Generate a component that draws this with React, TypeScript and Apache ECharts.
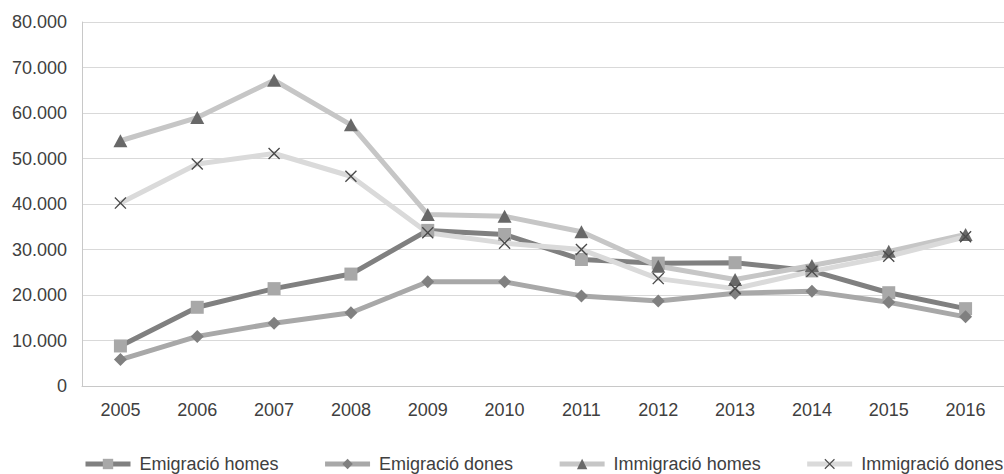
import React, { useEffect, useRef } from "react";
import * as echarts from "echarts";

const years = ["2005", "2006", "2007", "2008", "2009", "2010", "2011", "2012", "2013", "2014", "2015", "2016"];
const emigracioHomes = [8800, 17300, 21400, 24600, 34200, 33300, 27800, 27000, 27100, 25300, 20500, 17000];
const emigracioDones = [5800, 10900, 13800, 16100, 22900, 22900, 19800, 18700, 20400, 20800, 18400, 15200];
const immigracioHomes = [53900, 59000, 67200, 57400, 37700, 37300, 33900, 26300, 23400, 26500, 29600, 33300];
const immigracioDones = [40200, 48800, 51100, 46100, 33700, 31400, 30000, 23600, 21400, 25200, 28500, 32800];

const seriesNames = ["Emigració homes", "Emigració dones", "Immigració homes", "Immigració dones"];

const X_SYMBOL =
  "path://M0,8L8,0L50,42L92,0L100,8L58,50L100,92L92,100L50,58L8,100L0,92L42,50Z";

function fmt(v: number): string {
  if (v === 0) return "0";
  const s = String(Math.round(v));
  return s.replace(/\B(?=(\d{3})+(?!\d))/g, ".");
}

export default function App() {
  const ref = useRef<HTMLDivElement>(null);
  useEffect(() => {
    document.body.style.margin = "0";
    if (!ref.current) return;
    const chart = echarts.init(ref.current, undefined, { renderer: "svg" });
    const font = "'Liberation Sans', Arial, Helvetica, sans-serif";
    const mk = (
      name: string,
      data: number[],
      lineColor: string,
      symbol: string,
      symbolSize: number | number[],
      markColor: string
    ) => ({
      name,
      type: "line",
      data,
      symbol,
      symbolSize,
      showAllSymbol: true,
      lineStyle: { color: lineColor, width: 5 },
      itemStyle: { color: markColor, borderWidth: 0 },
      emphasis: { disabled: true },
    });
    chart.setOption({
      animation: false,
      textStyle: { fontFamily: font },
      grid: { left: 82, right: -9, top: 22, bottom: 88, containLabel: false },
      xAxis: {
        type: "category",
        data: years,
        boundaryGap: true,
        axisLine: { show: true, lineStyle: { color: "#c8c8c8", width: 1 } },
        axisTick: { show: false },
        axisLabel: { color: "#404040", fontSize: 18, margin: 15, fontFamily: font },
        splitLine: { show: false },
      },
      yAxis: {
        type: "value",
        min: 0,
        max: 80000,
        interval: 10000,
        axisLine: { show: true, lineStyle: { color: "#c8c8c8", width: 1 } },
        axisTick: { show: false },
        axisLabel: {
          color: "#404040",
          fontSize: 18,
          margin: 15,
          fontFamily: font,
          formatter: (v: number) => fmt(v),
        },
        splitLine: { show: true, lineStyle: { color: "#d9d9d9", width: 1 } },
      },
      legend: {
        show: true,
        left: 78,
        top: 450,
        width: 990,
        itemWidth: 45,
        itemHeight: 13,
        itemGap: 44,
        data: seriesNames,
        lineStyle: { width: 5 },
        textStyle: { color: "#404040", fontSize: 18, fontFamily: font, padding: [0, 0, 0, 4] },
        selectedMode: false,
      },
      series: [
        mk(seriesNames[0], emigracioHomes, "#808080", "rect", 13, "#a8a8a8"),
        mk(seriesNames[1], emigracioDones, "#a8a8a8", "diamond", 13, "#808080"),
        mk(seriesNames[2], immigracioHomes, "#c6c6c6", "triangle", [14, 13], "#686868"),
        mk(seriesNames[3], immigracioDones, "#dadada", X_SYMBOL, 12, "#4a4a4a"),
      ],
    });
    return () => chart.dispose();
  }, []);
  return <div ref={ref} style={{ width: 1004, height: 474 }} />;
}
